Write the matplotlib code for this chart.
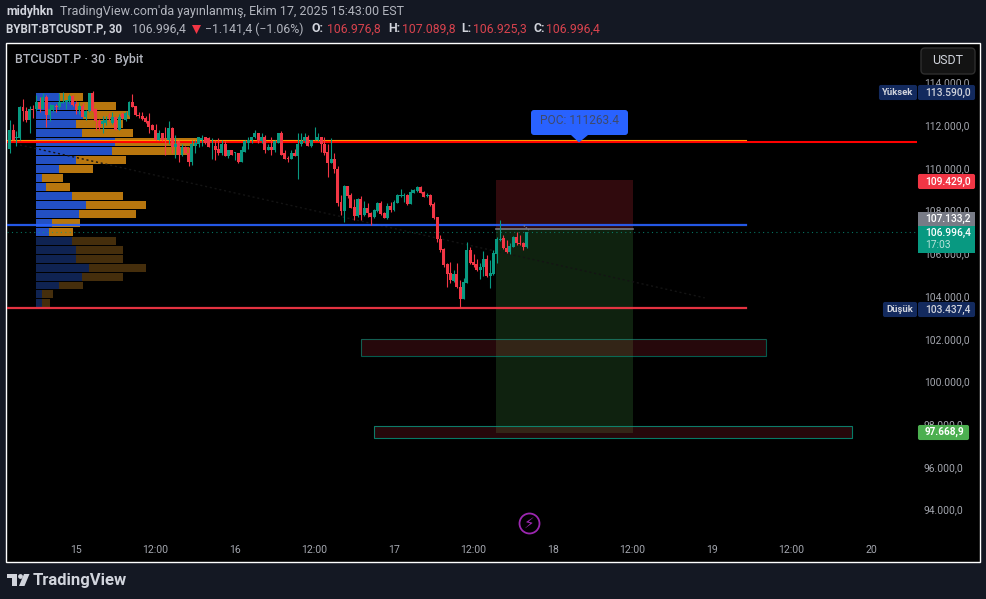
import matplotlib
matplotlib.use('Agg')
import matplotlib.pyplot as plt
from matplotlib.patches import Rectangle, FancyBboxPatch, Polygon, Circle, Ellipse
import numpy as np

plt.rcParams['font.family'] = ['Roboto', 'DejaVu Sans']

# Candles, 30 min bars
opens = [110900, 111750, 111370, 111370, 112830, 112640, 112220, 112730, 112730, 113060,
         112730, 113300, 112450, 112690, 112870, 112830, 113010, 113060, 113110, 113340,
         112970, 112690, 112870, 112360, 112640, 113480, 112730, 112170, 112030, 112080,
         112400, 112080, 112360, 111790, 112500, 112220, 112450, 113060, 112870, 112450,
         112400, 112310, 112170, 111980, 111790, 111320, 111610, 111460, 111280, 111840,
         110950, 111230, 110620, 110950, 110670, 110290, 111040, 111090, 111320, 111420,
         111370, 111000, 111040, 110900, 110710, 111090, 110530, 110810, 110710, 110710,
         110290, 110760, 111180, 111320, 111420, 111650, 111230, 111460, 110850, 110950,
         110810, 111180, 111610, 110670, 110480, 110430, 110710, 110530, 111090, 111230,
         111420, 111000, 111280, 111280, 111420, 111090, 110760, 110240, 110430, 109960,
         108410, 107990, 109160, 108740, 108180, 107760, 108550, 107800, 108130, 107900,
         107710, 107990, 108370, 107900, 107660, 108230, 108040, 108370, 108690, 108690,
         108740, 108320, 108840, 108930, 109120, 108880, 108690, 108740, 108320, 107710,
         106680, 106210, 105500, 105080, 104700, 105030, 104420, 103860, 104610, 106160,
         105600, 105500, 105220, 105360, 105740, 104940, 105030, 105970, 106630, 106720,
         106250, 106070, 106300, 106770, 106490, 106490, 106300]
highs = [112220, 112030, 111700, 112870, 113200, 112830, 112870, 112920, 113390, 113300,
         113480, 113390, 112970, 112920, 112970, 113480, 113530, 113150, 113440, 113390,
         113110, 113060, 113010, 112690, 113480, 113580, 112780, 112260, 112400, 112400,
         112540, 112590, 112400, 112500, 112590, 112640, 113110, 113440, 112870, 112590,
         112590, 112400, 112540, 112030, 112030, 111750, 111610, 111930, 112170, 111890,
         111510, 111280, 111090, 111040, 110950, 111280, 111320, 111420, 111510, 111460,
         111460, 111370, 111320, 111370, 111320, 111230, 110850, 110850, 110760, 110710,
         111040, 111280, 111460, 111460, 111790, 111650, 111610, 111510, 111090, 111420,
         111280, 111650, 111700, 110850, 110570, 110850, 110900, 111610, 111650, 111610,
         111510, 111320, 111930, 111610, 111460, 111460, 111090, 111370, 110670, 110100,
         108740, 109210, 109160, 108840, 108550, 108600, 108690, 108460, 108370, 107940,
         108080, 108410, 108460, 107940, 108370, 108410, 108510, 108790, 109020, 108840,
         108790, 109020, 109020, 109160, 109160, 108930, 108840, 108790, 108410, 107710,
         106860, 106250, 105550, 105600, 105220, 105550, 104750, 104840, 106530, 106300,
         105970, 105740, 105550, 106110, 105920, 105690, 106160, 106770, 107570, 106860,
         106630, 106490, 106820, 107000, 106860, 106530, 107000]
lows = [110670, 111280, 111000, 111320, 112170, 112120, 111650, 112310, 112640, 112590,
        112730, 111890, 112170, 112590, 112590, 112730, 113010, 112730, 113010, 112870,
        112500, 112500, 112360, 112220, 112590, 112590, 111790, 111790, 111650, 111980,
        112170, 112030, 111790, 111790, 112260, 112170, 112400, 112830, 112400, 112310,
        112220, 112080, 111610, 111750, 111280, 111280, 111230, 110620, 111090, 110710,
        110480, 110290, 110530, 110670, 110060, 110150, 110710, 110950, 111000, 111090,
        110950, 110430, 110380, 110620, 110620, 110530, 110480, 110620, 110380, 110240,
        110290, 110760, 110900, 111180, 111370, 111180, 111180, 110710, 110810, 110620,
        110760, 111180, 110620, 110430, 110290, 110430, 110530, 109490, 111000, 111180,
        111000, 110950, 111280, 111230, 110760, 110620, 109590, 110240, 109770, 108230,
        107800, 107470, 108600, 108130, 107570, 107710, 107570, 107760, 107710, 107330,
        107660, 107940, 107800, 107660, 107610, 107940, 107990, 108370, 108650, 108410,
        108270, 108320, 108840, 108880, 108840, 108650, 108650, 108230, 107610, 106530,
        106070, 105360, 104420, 104610, 104660, 104370, 103437, 103860, 104610, 105500,
        105360, 105170, 104800, 104940, 104890, 104370, 104990, 105550, 106580, 106210,
        106020, 105970, 106300, 106390, 106390, 106160, 106250]
closes = [111750, 111320, 111420, 112830, 112640, 112220, 112730, 112690, 113060, 112730,
          113300, 112450, 112730, 112920, 112830, 113060, 113060, 113150, 113340, 112920,
          112690, 112870, 112360, 112640, 113480, 112640, 112170, 111890, 112170, 112220,
          112360, 112360, 111790, 112360, 112310, 112540, 113060, 112830, 112450, 112400,
          112260, 112120, 111930, 111750, 111320, 111610, 111280, 111420, 111840, 110950,
          111090, 110620, 110950, 110710, 110290, 111090, 111180, 111420, 111370, 111140,
          110950, 111040, 110850, 110710, 111090, 110530, 110810, 110620, 110760, 110290,
          110810, 111230, 111320, 111460, 111650, 111230, 111460, 110850, 110950, 110810,
          111230, 111610, 110620, 110430, 110430, 110710, 110530, 111090, 111230, 111420,
          111000, 111320, 111320, 111420, 111090, 110710, 110240, 110430, 109920, 108370,
          107990, 109160, 108690, 108130, 107760, 108550, 107800, 108130, 107900, 107710,
          108040, 108370, 107850, 107660, 108230, 108040, 108410, 108740, 108740, 108740,
          108320, 108880, 108980, 109120, 108840, 108650, 108740, 108270, 107660, 106680,
          106160, 105450, 105030, 104750, 105030, 104420, 103860, 104660, 106160, 105550,
          105450, 105220, 105360, 105740, 104940, 105080, 106020, 106680, 106680, 106250,
          106070, 106350, 106770, 106490, 106440, 106300, 106996]

# Volume profile rows
profile_prices = [113310, 112890, 112470, 112050, 111630, 111210, 110790, 110370, 109950, 109530,
                  109110, 108690, 108270, 107850, 107430, 107010, 106590, 106170, 105750, 105330,
                  104910, 104490, 104070, 103650]
vol_up = [23, 40, 47, 40, 46, 79, 76, 40, 23, 6, 10, 36, 50, 43, 16, 13, 36, 40, 40, 53, 46, 23, 6, 6]
vol_down = [24, 40, 47, 47, 51, 82, 77, 50, 34, 21, 24, 51, 60, 57, 28, 24, 44, 47, 47, 57, 41, 24, 11, 8]

# Levels
poc_price = 111263.4
mid_level = 107330
low_level = 103437
last_price = 106996.4
entry_price = 107133.2
stop_price = 109429.0
target_price = 97668.9

# Axis ticks
price_ticks = [94000, 96000, 98000, 100000, 102000, 104000, 106000, 108000, 110000, 112000, 114000]
price_labels = ['94.000,0', '96.000,0', '98.000,0', '100.000,0', '102.000,0', '104.000,0',
                '106.000,0', '108.000,0', '110.000,0', '112.000,0', '114.000,0']
time_ticks = [0, 12, 24, 36, 48, 60, 72, 84, 96, 108, 120]
time_labels = ['15', '12:00', '16', '12:00', '17', '12:00', '18', '12:00', '19', '12:00', '20']

UP = '#089981'
DOWN = '#f23645'
BG = '#141823'
TXT = '#a3a6ae'

fig = plt.figure(figsize=(9.86, 5.99), dpi=100, facecolor=BG)

# Pixel axes under the chart, for the black panel
back = fig.add_axes([0, 0, 1, 1], zorder=0)
back.set_xlim(0, 986)
back.set_ylim(599, 0)
back.axis('off')
back.add_patch(Rectangle((6, 43), 974, 519, facecolor='black', edgecolor='white', linewidth=1))

# Main chart, x is hours from 15 Oct 00:00
ax = fig.add_axes([7 / 986, 1 - 538 / 599, 910 / 986, 494 / 599], zorder=1)
ax.set_facecolor('none')
ax.set_xlim(-10.415, 126.94)
ax.set_ylim(92673, 115792)
for s in ax.spines.values():
    s.set_visible(False)
ax.yaxis.tick_right()
ax.set_yticks(price_ticks, price_labels)
ax.set_xticks(time_ticks, time_labels)
ax.tick_params(axis='y', length=0, pad=5, labelcolor=TXT, labelsize=7.4)
ax.tick_params(axis='x', length=0, pad=5, labelcolor=TXT, labelsize=7.6)

# Long position box
ax.axhspan(entry_price, stop_price, xmin=(63.4 + 10.415) / 137.355, xmax=(84.08 + 10.415) / 137.355,
           facecolor=DOWN, alpha=0.2, linewidth=0, zorder=1)
ax.axhspan(97600, entry_price, xmin=(63.4 + 10.415) / 137.355, xmax=(84.08 + 10.415) / 137.355,
           facecolor='#4caf50', alpha=0.2, linewidth=0, zorder=1)
ax.plot([63.4, 84.08], [entry_price, entry_price], color='#787b86', lw=1.2, zorder=2)

# Volume profile
profile_prices = np.array(profile_prices)
vol_up = np.array(vol_up)
vol_down = np.array(vol_down)
start = -6.04
px = 1 / 6.625
bright = profile_prices > 106800
ax.barh(profile_prices[bright], vol_up[bright] * px, height=374, left=start, color='#2350c4', zorder=2)
ax.barh(profile_prices[bright], vol_down[bright] * px, height=374, left=start + vol_up[bright] * px,
        color='#b8760e', zorder=2)
ax.barh(profile_prices[~bright], vol_up[~bright] * px, height=374, left=start, color='#0f2352', zorder=2)
ax.barh(profile_prices[~bright], vol_down[~bright] * px, height=374, left=start + vol_up[~bright] * px,
        color='#452e0c', zorder=2)

# Boxes under the price
ax.add_patch(Rectangle((43.0, 101196), 61.1, 791, facecolor=DOWN, alpha=0.16, edgecolor='none', zorder=2))
ax.add_patch(Rectangle((43.0, 101196), 61.1, 791, facecolor='none', edgecolor=UP, alpha=0.6, lw=0.8, zorder=2))
ax.add_patch(Rectangle((45.0, 97353), 72.1, 562, facecolor=DOWN, alpha=0.16, edgecolor='none', zorder=2))
ax.add_patch(Rectangle((45.0, 97353), 72.1, 562, facecolor='none', edgecolor=UP, alpha=0.8, lw=0.8, zorder=2))

# Dim trend line
ax.plot([-8.45, 94.9], [111066, 103913], color='#141414', lw=1, ls=(0, (1.5, 2)), zorder=3)

# Levels
ax.plot([-10.415, 126.94], [poc_price - 45, poc_price - 45], color='#ff0000', lw=1.5, zorder=3)
ax.plot([-10.415, 101.1], [poc_price + 30, poc_price + 30], color='#ff9800', lw=0.8, zorder=3)
ax.plot([-10.415, 101.1], [mid_level, mid_level], color='#2962ff', lw=1.6, zorder=3, alpha=0.9)
ax.plot([-10.415, 101.1], [low_level, low_level], color=DOWN, lw=1.6, zorder=3, alpha=0.95)
ax.plot([-10.415, 126.94], [last_price, last_price], color=UP, lw=0.8, ls=(0, (1, 3)), alpha=0.75, zorder=3)

# Candles
times = 68 - 0.5 * np.arange(len(opens))[::-1]
opens = np.array(opens)
highs = np.array(highs)
lows = np.array(lows)
closes = np.array(closes)
colors = np.where(closes >= opens, UP, DOWN)
ax.vlines(times, lows, highs, colors=colors, lw=0.8, zorder=4)
ax.bar(times, np.abs(closes - opens), bottom=np.minimum(opens, closes), width=0.45, color=colors,
       linewidth=0, zorder=4)

# Small grey drawing at the last bars
ax.plot([67.6, 68.0, 68.5], [107300, 107180, 107060], color='#787b86', lw=1, ls=(0, (1, 1)), zorder=5)

# Pixel axes on top for the labels and header
top = fig.add_axes([0, 0, 1, 1], zorder=2)
top.set_xlim(0, 986)
top.set_ylim(599, 0)
top.axis('off')
top.patch.set_alpha(0)


def label(x, y, s, color=TXT, size=7.4, weight='normal', ha='left', family=None):
    kw = {'family': family} if family else {}
    return top.text(x, y, s, color=color, fontsize=size, fontweight=weight, ha=ha, va='center', **kw)


def tag(x0, y0, x1, y1, color):
    top.add_patch(FancyBboxPatch((x0 + 1, y0 + 1), x1 - x0 - 2, y1 - y0 - 2, boxstyle='round,pad=0,rounding_size=1',
                                 mutation_aspect=1, facecolor=color, edgecolor=color, linewidth=1.5))


# Header
label(6, 12, 'midyhkn', color='#d1d4dc', size=8.8, weight='bold')
label(60, 12, "TradingView.com'da yayınlanmış, Ekim 17, 2025 15:43:00 EST", color='#b2b5be', size=9)
label(6, 29, 'BYBIT:BTCUSDT.P, 30', color='#d1d4dc', size=8.3, weight='bold')
label(132, 29, '106.996,4', color='#b2b5be', size=8.8)
top.add_patch(Polygon([(192, 25), (201, 25), (196.5, 34)], facecolor=DOWN, edgecolor='none'))
label(205, 29, '−1.141,4 (−1.06%)', color='#b2b5be', size=8.8)
for x_l, x_v, name, val in [(312, 326.5, 'O:', '106.976,8'), (388, 402, 'H:', '107.089,8'),
                            (461, 473, 'L:', '106.925,3'), (533, 546, 'C:', '106.996,4')]:
    label(x_l, 29, name, color='#d1d4dc', size=8.8, weight='bold')
    label(x_v, 29, val, color='#d9434e', size=8.8)
label(15, 60, 'BTCUSDT.P · 30 · Bybit', color='#b2b5be', size=9, weight='medium')

# POC bubble
top.add_patch(FancyBboxPatch((531, 110), 97, 25, boxstyle='round,pad=0,rounding_size=3', facecolor='#2962ff',
                             edgecolor='none'))
top.add_patch(Polygon([(571, 135), (588, 135), (579, 142.5)], facecolor='#2962ff', edgecolor='none'))
label(579, 121, 'POC: 111263.4', color='#3e4a6b', size=8.6, ha='center')

# Right scale tags
top.add_patch(FancyBboxPatch((921, 48), 54, 26, boxstyle='round,pad=0,rounding_size=4', facecolor='#131313',
                             edgecolor='#2e2e2e', linewidth=1))
label(948, 61, 'USDT', color='#d1d4dc', size=9, ha='center')
tag(879, 85, 917, 100, '#132a5e')
tag(918, 85, 975, 100, '#132a5e')
label(898, 92.5, 'Yüksek', color='#d1d4dc', size=6.8, weight='bold', ha='center')
label(925, 92.5, '113.590,0', color='#d1d4dc', weight='medium')
tag(918, 174, 975, 189, DOWN)
label(925, 181.5, '109.429,0', color='white', weight='medium')
top.add_patch(Rectangle((918, 212), 57, 14, facecolor='#787b86', edgecolor='none'))
label(925, 219, '107.133,2', color='white', weight='medium')
top.add_patch(Rectangle((918, 226), 57, 27, facecolor=UP, edgecolor='none'))
label(925, 233, '106.996,4', color='white', weight='medium')
label(925, 244.5, '17:03', color='#b9e3da')
tag(883, 302, 917, 317, '#132a5e')
tag(918, 302, 975, 317, '#132a5e')
label(900, 309.5, 'Düşük', color='#d1d4dc', size=6.8, weight='bold', ha='center')
label(925, 309.5, '103.437,4', color='#d1d4dc', weight='medium')
tag(918, 425, 969, 440, '#4caf50')
label(925, 432, '97.668,9', color='white', size=7.2, weight='bold')

# Lightning mark
top.add_patch(Ellipse((529.5, 523.5), 20, 20, facecolor='none', edgecolor='#9c27b0', linewidth=1.3))
label(529.5, 523.5, '⚡', color='#9c27b0', size=11, ha='center', family='DejaVu Sans')

# Footer logo
top.add_patch(Rectangle((7, 574), 10, 4, facecolor='#d1d4dc', edgecolor='none'))
top.add_patch(Rectangle((12, 574), 5, 12, facecolor='#d1d4dc', edgecolor='none'))
top.add_patch(Circle((20.5, 576.5), 2.4, facecolor='#d1d4dc', edgecolor='none'))
top.add_patch(Polygon([(24, 574), (29.5, 574), (24.5, 586), (19, 586)], facecolor='#d1d4dc', edgecolor='none'))
label(33, 580, 'TradingView', color='#d1d4dc', size=12, weight='bold')

fig.savefig('out.png', dpi=100, facecolor=BG)
